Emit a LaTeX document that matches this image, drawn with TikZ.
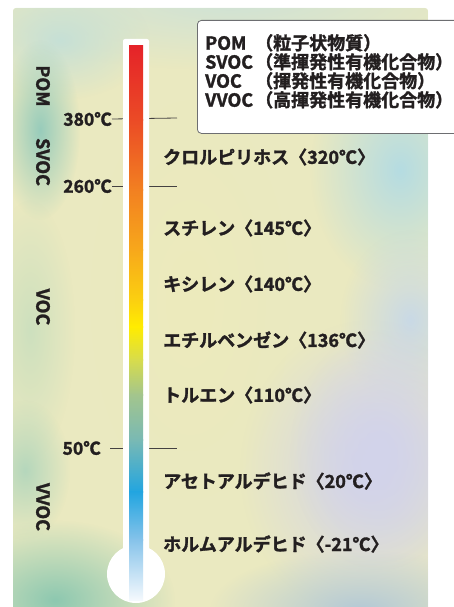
\documentclass[tikz,border=0pt]{standalone}
\usepackage{fontspec}
\setmainfont{Noto Sans CJK JP}[BoldFont={Noto Sans CJK JP Bold}, BoldFeatures={FakeBold=1.6}]
\usetikzlibrary{fadings}
\tikzfading[name=blob, inner color=transparent!0, outer color=transparent!100]
\definecolor{ink}{HTML}{231F20}
\definecolor{legendgray}{HTML}{6D6E71}
\definecolor{bgbase}{HTML}{EAE9C0}
\definecolor{tA}{HTML}{E52329}
\definecolor{tB}{HTML}{EB4B26}
\definecolor{tC}{HTML}{F28021}
\definecolor{tD}{HTML}{F7A81B}
\definecolor{tE}{HTML}{FBD010}
\definecolor{tF}{HTML}{FFEC00}
\definecolor{tG}{HTML}{D7DC4C}
\definecolor{tH}{HTML}{A3C58D}
\definecolor{tI}{HTML}{79B9B4}
\definecolor{tJ}{HTML}{22A5E0}
\definecolor{tK}{HTML}{86C3EA}
\definecolor{tL}{HTML}{F5F9FD}
\newcommand\thermoseg[4]{\shade[top color=#3, bottom color=#4] (129,-#1+0.3) rectangle (143,-#2-0.3);}
\newcommand\bgblob[5]{\definecolor{blobcol}{HTML}{#5}\fill[blobcol, path fading=blob] (#1,-#2) ellipse ({#3} and {#4});}
\begin{document}
\begin{tikzpicture}[x=1pt,y=1pt,
  templ/.style={font=\bfseries\fontsize{17.5}{17.5}\selectfont, text=ink, inner sep=0pt, anchor=east},
  chem/.style={font=\bfseries\fontsize{18}{18}\selectfont, text=ink, anchor=west, inner sep=0pt},
  cls/.style={font=\bfseries\fontsize{18}{18}\selectfont, text=ink, rotate=-90, inner sep=0pt},
  tickline/.style={draw=ink!85, line width=0.8pt}]
\useasboundingbox (0,0) rectangle (453,-607);
% background panel
\begin{scope}
\clip[rounded corners=3] (13,-8) rectangle (428,-615);
\fill[bgbase] (13,-8) rectangle (428,-615);
\bgblob{230}{0}{280}{70}{CFE2D6}
\bgblob{60}{40}{90}{60}{C6E0D6}
\bgblob{40}{130}{40}{90}{98CCBB}
\bgblob{400}{170}{90}{120}{B5DCE2}
\bgblob{410}{320}{70}{90}{C9D9E6}
\bgblob{370}{470}{130}{150}{D2D3EB}
\bgblob{380}{450}{90}{120}{D2D3EB}
\bgblob{360}{610}{150}{60}{B3C9D6}
\bgblob{55}{600}{120}{80}{8DC8B0}
\bgblob{30}{330}{45}{130}{CDE0BE}
\bgblob{25}{470}{45}{70}{B5D7BC}
\bgblob{190}{300}{100}{200}{EDEBBC}
\end{scope}
% temperature labels and ticks
\node[templ] (t380) at (112,-119) {380℃};
\node[templ] (t260) at (112,-186) {260℃};
\node[templ] (t50) at (101,-448) {50℃};
\coordinate (e380) at (177,-118);
\coordinate (e260) at (177,-186);
\coordinate (e50) at (177,-448);
\draw[tickline] (t380.east) -- (e380);
\draw[tickline] (t260.east) -- (e260);
\draw[tickline] ([xshift=9]t50.east) -- (e50);
% thermometer
\fill[white, rounded corners=2] (123,-39) rectangle (149,-560);
\fill[white] (136,-574) circle (29);
\thermoseg{46}{120}{tA}{tB}
\thermoseg{120}{190}{tB}{tC}
\thermoseg{190}{250}{tC}{tD}
\thermoseg{250}{300}{tD}{tE}
\thermoseg{300}{327}{tE}{tF}
\thermoseg{327}{360}{tF}{tG}
\thermoseg{360}{395}{tG}{tH}
\thermoseg{395}{440}{tH}{tI}
\thermoseg{440}{492}{tI}{tJ}
\thermoseg{492}{540}{tJ}{tK}
\thermoseg{540}{600}{tK}{tL}
% class labels
\node[cls] (pom) at (43,-86) {POM};
\node[cls] (svoc) at (43,-162) {SVOC};
\node[cls] (voc) at (43,-307) {VOC};
\node[cls] (vvoc) at (43,-507) {VVOC};
% substances
\node[chem] (c1) at (163,-157) {クロルピリホス〈320℃〉};
\node[chem] (c2) at (163,-228) {スチレン〈145℃〉};
\node[chem] (c3) at (163,-284) {キシレン〈140℃〉};
\node[chem] (c4) at (163,-340) {エチルベンゼン〈136℃〉};
\node[chem] (c5) at (163,-395) {トルエン〈110℃〉};
\node[chem] (c6) at (163,-481) {アセトアルデヒド〈20℃〉};
\node[chem] (c7) at (163,-544) {ホルムアルデヒド〈-21℃〉};
% legend
\node[draw=legendgray, line width=0.8pt, fill=white, rounded corners=4, anchor=north west,
      minimum width=280, minimum height=113, inner sep=0pt] (legend) at (197,-20) {};
\node[anchor=north west, align=left, inner sep=0pt, text=ink,
      font=\bfseries\fontsize{18}{19}\selectfont] (legendtext)
  at ([xshift=8, yshift=-14]legend.north west)
  {\makebox[50pt][l]{POM}（粒子状物質）\\
   \makebox[50pt][l]{SVOC}（準揮発性有機化合物）\\
   \makebox[50pt][l]{VOC}（揮発性有機化合物）\\
   \makebox[50pt][l]{VVOC}（高揮発性有機化合物）};
\end{tikzpicture}
\end{document}
